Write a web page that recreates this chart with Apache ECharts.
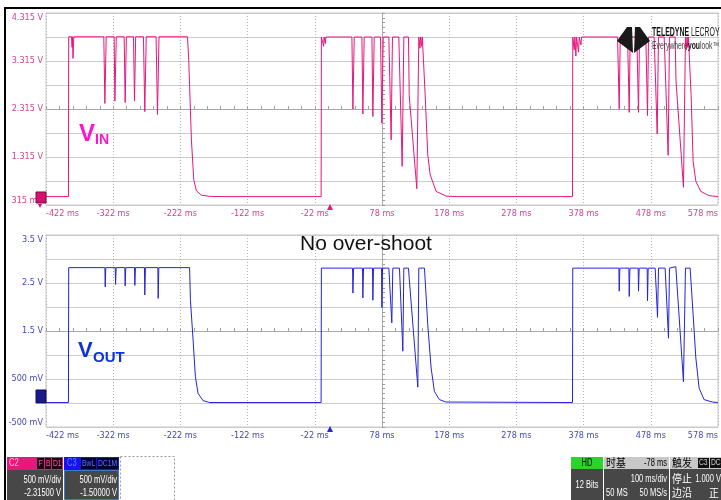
<!DOCTYPE html>
<html lang="en">
<head>
<meta charset="UTF-8">
<title>VIN / VOUT scope capture</title>
<style>
  html, body { margin: 0; padding: 0; background: #fff; }
  #scope { width: 721px; height: 500px; }
</style>
</head>
<body>
<div id="scope"></div>
<script src="https://cdn.jsdelivr.net/npm/echarts@6/dist/echarts.min.js"></script>
<script>
// tick labels as shown on the scope
var xTickLabels = ['-422 ms', '-322 ms', '-222 ms', '-122 ms', '-22 ms', '78 ms', '178 ms', '278 ms', '378 ms', '478 ms', '578 ms'];
var vinTickLabels = ['315 mV', '1.315 V', '2.315 V', '3.315 V', '4.315 V'];
var voutTickLabels = ['-500 mV', '500 mV', '1.5 V', '2.5 V', '3.5 V'];

// screen centre of each trace (78 ms, offset volts), 500 mV/div
var timeCenter = 78;
var vinCenter = 2.315;
var voutCenter = 1.5;
var voltsPerDiv = 0.5;

// [time ms, volts]
var vinPoints = [
  [-422, 0.49], [-388.6, 0.49], [-388.2, 3.82], [-384, 3.82], [-383.2, 3.6], [-382.6, 3.82], [-381.8, 3.37], [-380.6, 3.82],
  [-336, 3.82], [-334.4, 2.43], [-332.4, 3.82],
  [-320.6, 3.82], [-319.5, 2.48], [-317.4, 3.82],
  [-305.7, 3.82], [-304.2, 2.45], [-302.4, 3.82],
  [-291.8, 3.82], [-290.3, 2.48], [-288.6, 3.82],
  [-277, 3.82], [-275, 2.26], [-272.8, 3.82],
  [-258.2, 3.82], [-256.1, 2.2], [-253.8, 3.82],
  [-211.5, 3.82], [-209.6, 3.34], [-205.6, 1.67], [-202.1, 0.84], [-198.2, 0.61], [-190.7, 0.52], [-178.4, 0.495], [-160, 0.49],
  [-12.6, 0.49], [-12.2, 3.815], [-9.5, 3.815], [-8.8, 3.62], [-8.2, 3.815], [-6.4, 3.68], [-5.6, 3.815],
  [33.2, 3.815], [34.7, 2.315], [36.7, 3.815],
  [48.1, 3.815], [49.5, 2.21], [51.5, 3.815],
  [63, 3.815], [64.4, 2.16], [66.4, 3.815],
  [75.8, 3.815], [77.8, 2.02], [79.8, 3.815],
  [88.2, 3.815], [91.6, 1.675], [93.6, 3.815],
  [103, 3.815], [108, 1.12], [110.5, 3.815],
  [117.4, 3.815], [118.5, 2.6], [129.8, 0.655], [132.8, 3.815], [134.5, 3.58], [135.5, 3.815], [137, 3.62], [138, 3.815],
  [140.2, 3.815], [142.2, 2.61], [146.1, 1.36], [149.6, 0.95], [158.5, 0.6], [173.4, 0.5], [190, 0.49],
  [361.5, 0.49], [361.9, 3.815], [364, 3.55], [365, 3.815], [366.5, 3.42], [367.5, 3.815], [370.5, 3.5], [371.5, 3.815], [374, 3.65], [375, 3.815],
  [428.5, 3.815], [431, 2.315], [432.5, 3.815],
  [443.4, 3.815], [445.9, 2.245], [447.3, 3.815],
  [457.2, 3.815], [459.7, 2.245], [461.2, 3.815],
  [470.6, 3.815], [473.1, 2.18], [474.6, 3.815],
  [483, 3.815], [487.5, 1.795], [489.4, 3.815],
  [497.9, 3.815], [503.8, 1.35], [505.8, 3.815],
  [514.2, 3.815], [515.5, 2.9], [526.6, 0.685], [529.6, 3.815], [531, 3.55], [532, 3.815], [533, 3.6], [534, 3.815],
  [536, 3.815], [538, 2.6], [541, 1.225], [545, 0.81], [552.3, 0.6], [564.7, 0.51], [578, 0.49]
];

var voutPoints = [
  [-422, 0.01], [-388.6, 0.01], [-388.2, 2.82],
  [-334.4, 2.82], [-333.9, 2.42], [-333, 2.82],
  [-319, 2.82], [-318.5, 2.47], [-317.6, 2.82],
  [-304.7, 2.82], [-304.2, 2.44], [-303.3, 2.82],
  [-290.3, 2.82], [-289.8, 2.45], [-288.9, 2.82],
  [-275.5, 2.82], [-275, 2.25], [-274, 2.82],
  [-255.6, 2.82], [-255.1, 2.18], [-254.1, 2.82],
  [-208.3, 2.82], [-207.1, 2.15], [-203.1, 1.31], [-199.7, 0.55], [-195.7, 0.2], [-188.3, 0.05], [-178.4, 0.01],
  [-12.6, 0.01], [-12.2, 2.81],
  [34.2, 2.81], [34.7, 2.29], [35.7, 2.81],
  [49, 2.81], [49.5, 2.19], [50.5, 2.81],
  [63.9, 2.81], [64.4, 2.14], [65.4, 2.81],
  [77.3, 2.81], [77.8, 1.99], [78.8, 2.81],
  [88.2, 2.81], [92.6, 1.67], [94.1, 2.81],
  [104, 2.81], [109, 1.08], [110.5, 2.81],
  [117.4, 2.81], [118.5, 2.6], [131.3, 0.33], [132.8, 2.81],
  [141.2, 2.81], [146.1, 1.63], [151.1, 0.73], [156, 0.24], [163.5, 0.07], [173.4, 0.02],
  [361.5, 0.01], [361.9, 2.81],
  [430.5, 2.81], [431, 2.33], [432, 2.81],
  [445.4, 2.81], [445.9, 2.22], [446.9, 2.81],
  [459.2, 2.81], [459.7, 2.33], [460.7, 2.81],
  [472.6, 2.81], [473.1, 2.13], [474.1, 2.81],
  [484.5, 2.81], [488, 1.785], [489.5, 2.81],
  [499.3, 2.81], [504.3, 1.35], [505.8, 2.81],
  [515.2, 2.84], [526.6, 0.44], [529.6, 2.81],
  [536.5, 2.81], [541, 1.84], [545, 0.94], [549.9, 0.31], [557.3, 0.07], [569.7, 0.02], [578, 0.01]
];

var pink = '#e8157e';
var blue = '#2424d8';
var narrow = "'DejaVu Sans Condensed', 'Liberation Sans', sans-serif";
var arial = "'Liberation Sans', Arial, sans-serif";
var cjk = "'Noto Sans CJK SC', sans-serif";

function toScreen(points, center) {
  return points.map(function (p) {
    return [p[0] - timeCenter, (p[1] - center) / voltsPerDiv];
  });
}

function labelAxisX(g, color) {
  return {
    gridIndex: g, type: 'value', min: -500, max: 500, interval: 100, position: 'bottom',
    axisLine: { show: false, onZero: false }, axisTick: { show: false },
    splitLine: { show: true, lineStyle: { color: '#b4b4b4', type: [1, 2], width: 1 } },
    axisLabel: {
      color: color, fontFamily: narrow, fontSize: 9, margin: 4,
      showMinLabel: true, showMaxLabel: true, alignMinLabel: 'left', alignMaxLabel: 'right',
      formatter: function (v) { return xTickLabels[Math.round((v + 500) / 100)]; }
    }
  };
}

function centerAxisX(g) {
  return {
    gridIndex: g, type: 'value', min: -500, max: 500, interval: 20, position: 'bottom',
    axisLine: { show: true, onZero: true, lineStyle: { color: '#a8a8a8' } },
    axisTick: { show: true, inside: true, length: 3, lineStyle: { color: '#a0a0a0' } },
    axisLabel: { show: false }, splitLine: { show: false }
  };
}

function labelAxisY(g, color, labels) {
  return {
    gridIndex: g, type: 'value', min: -4, max: 4, interval: 1, position: 'left',
    axisLine: { show: false, onZero: false }, axisTick: { show: false },
    splitLine: { show: true, lineStyle: { color: '#cbcbcb', width: 1 } },
    axisLabel: {
      color: color, fontFamily: narrow, fontSize: 9, margin: 3,
      showMinLabel: true, showMaxLabel: true,
      verticalAlignMinLabel: 'bottom', verticalAlignMaxLabel: 'top',
      formatter: function (v) {
        var k = Math.round(v + 4);
        return k % 2 === 0 ? labels[k / 2] : '';
      }
    }
  };
}

function centerAxisY(g) {
  return {
    gridIndex: g, type: 'value', min: -4, max: 4, interval: 0.2, position: 'left',
    axisLine: { show: true, onZero: true, lineStyle: { color: '#a8a8a8' } },
    axisTick: { show: true, inside: true, length: 3, lineStyle: { color: '#a0a0a0' } },
    axisLabel: { show: false }, splitLine: { show: false }
  };
}

// squeezed text for the small status boxes
function boxText(x, y, text, opts, sx) {
  return {
    type: 'text', x: x, y: y, z: 20, scaleX: sx || 0.75,
    style: Object.assign({ text: text, fill: '#ffffff', font: '10px ' + arial, textVerticalAlign: 'middle' }, opts || {})
  };
}

function box(x, y, w, h, fill, stroke) {
  return {
    type: 'rect', z: 19, shape: { x: x, y: y, width: w, height: h },
    style: { fill: fill, stroke: stroke || null, lineWidth: stroke ? 1 : 0 }
  };
}

var chart = echarts.init(document.getElementById('scope'), null, { renderer: 'canvas' });

var option = {
  animation: false,
  backgroundColor: '#ffffff',
  grid: [
    { left: 46, top: 13, width: 673, height: 192, show: true, borderColor: '#c6c6c6', borderWidth: 1 },
    { left: 46, top: 235, width: 673, height: 192, show: true, borderColor: '#c6c6c6', borderWidth: 1 }
  ],
  xAxis: [labelAxisX(0, '#d6428e'), centerAxisX(0), labelAxisX(1, '#4048c0'), centerAxisX(1)],
  yAxis: [labelAxisY(0, '#d6428e', vinTickLabels), centerAxisY(0), labelAxisY(1, '#4048c0', voutTickLabels), centerAxisY(1)],
  series: [
    {
      name: 'VIN', type: 'line', xAxisIndex: 0, yAxisIndex: 0,
      data: toScreen(vinPoints, vinCenter), showSymbol: false, z: 5,
      lineStyle: { color: pink, width: 1 }
    },
    {
      name: 'VOUT', type: 'line', xAxisIndex: 2, yAxisIndex: 2,
      data: toScreen(voutPoints, voutCenter), showSymbol: false, z: 5,
      lineStyle: { color: blue, width: 1 }
    }
  ],
  graphic: [
    // outer black frame
    box(4, 7, 717, 2, '#000000'),
    box(4, 7, 2, 493, '#000000'),

    // trace names
    { type: 'text', x: 79, y: 122, z: 20, style: { text: 'V', fill: '#ff14cc', font: 'bold 24px ' + arial } },
    { type: 'text', x: 95, y: 133, z: 20, style: { text: 'IN', fill: '#ff14cc', font: 'bold 14px ' + arial } },
    { type: 'text', x: 78, y: 340, z: 20, style: { text: 'V', fill: '#0a32e0', font: 'bold 22px ' + arial } },
    { type: 'text', x: 93, y: 350, z: 20, style: { text: 'OUT', fill: '#0a32e0', font: 'bold 15px ' + arial } },
    { type: 'text', x: 300, y: 234, z: 20, style: { text: 'No over-shoot', fill: '#111111', font: '21px ' + arial } },

    // channel ground markers
    box(36, 192, 10, 11, '#d4126e', '#7a0a40'),
    { type: 'polygon', z: 20, shape: { points: [[38, 204], [42, 204], [40, 208]] }, style: { fill: '#d4126e' } },
    box(36, 390, 10, 13, '#1a1a90', '#0c0c50'),

    // trigger position markers
    { type: 'polygon', z: 20, shape: { points: [[327, 210], [333, 210], [330, 204]] }, style: { fill: '#e8157e' } },
    { type: 'polygon', z: 20, shape: { points: [[327, 432], [333, 432], [330, 426]] }, style: { fill: '#2424d8' } },

    // logo
    { type: 'polygon', z: 21, shape: { points: [[617, 41], [627, 27], [632, 27], [633, 53]] }, style: { fill: '#1a1a1a' } },
    { type: 'polygon', z: 21, shape: { points: [[650, 41], [640, 27], [635, 27], [634, 53]] }, style: { fill: '#1a1a1a' } },
    {
      type: 'text', x: 652, y: 27, z: 21, scaleX: 0.58,
      style: {
        text: '{b|TELEDYNE} {n|LECROY}',
        rich: {
          b: { font: 'bold 12px ' + arial, fill: '#111' },
          n: { font: '12px ' + arial, fill: '#222' }
        }
      }
    },
    {
      type: 'text', x: 652, y: 41, z: 21, scaleX: 0.68,
      style: {
        text: '{n|Everywhere}{b|you}{n|look™}',
        rich: {
          b: { font: 'bold 10px ' + arial, fill: '#111' },
          n: { font: '10px ' + arial, fill: '#444' }
        }
      }
    },

    // C2 descriptor
    box(7, 457, 56, 13, '#e8187a'),
    boxText(9, 463.5, 'C2', { fill: '#ffc0e0' }),
    box(37, 458, 7, 11, '#1a0010'),
    boxText(38.5, 463.5, 'F', { fill: '#ff5aa8', font: '9px ' + arial }),
    box(45, 458, 6, 11, '#1a0010'),
    boxText(46, 463.5, 'B', { fill: '#ff5aa8', font: '9px ' + arial }),
    box(52, 458, 10, 11, '#1a0010'),
    boxText(53, 463.5, 'D1', { fill: '#ff5aa8', font: '9px ' + arial }),
    box(7, 470, 56, 30, '#474747'),
    boxText(61, 480, '500 mV/div', { textAlign: 'right' }),
    boxText(61, 493, '-2.31500 V', { textAlign: 'right' }),

    // C3 descriptor
    box(64, 457, 55, 13, '#1414f0'),
    boxText(67, 463.5, 'C3', { fill: '#6080ff' }),
    box(81, 458, 15, 11, '#000030'),
    boxText(82, 463.5, 'BwL', { fill: '#5a70ff', font: '9px ' + arial }),
    box(97, 458, 21, 11, '#000030'),
    boxText(98, 463.5, 'DC1M', { fill: '#5a70ff', font: '9px ' + arial }),
    box(64.5, 470.5, 54, 29, '#474747', '#3f78c8'),
    boxText(117, 480, '500 mV/div', { textAlign: 'right' }),
    boxText(117, 493, '-1.50000 V', { textAlign: 'right' }),

    // empty descriptor slot
    {
      type: 'rect', z: 18, shape: { x: 120.5, y: 456.5, width: 54, height: 45 },
      style: { fill: null, stroke: '#9a9a9a', lineWidth: 1, lineDash: [2, 2] }
    },

    // acquisition status
    box(571, 457, 32, 12, '#2ed12e'),
    boxText(587, 463, 'HD', { fill: '#000', textAlign: 'center' }),
    box(571, 469, 32, 31, '#474747'),
    boxText(587, 485, '12 Bits', { textAlign: 'center' }),

    box(604, 457, 65, 12, '#c8c8c8'),
    boxText(606, 463, '时基', { fill: '#000', font: '11px ' + cjk }, 0.9),
    boxText(667, 463, '-78 ms', { fill: '#000', textAlign: 'right' }),
    box(604, 469, 65, 31, '#474747'),
    boxText(667, 479, '100 ms/div', { textAlign: 'right' }),
    boxText(606, 493, '50 MS'),
    boxText(667, 493, '50 MS/s', { textAlign: 'right' }),

    box(670, 457, 51, 12, '#c8c8c8'),
    boxText(672, 463, '触发', { fill: '#000', font: '11px ' + cjk }, 0.9),
    box(698, 458, 11, 10, '#111111'),
    boxText(699, 463, 'C3', { fill: '#cccccc', font: '9px ' + arial }),
    box(710, 458, 11, 10, '#111111'),
    boxText(711, 463, 'DC', { fill: '#cccccc', font: '9px ' + arial }),
    box(670, 469, 51, 31, '#474747'),
    boxText(672, 479, '停止', { font: '11px ' + cjk }, 0.9),
    boxText(721, 479, '1.000 V', { textAlign: 'right' }),
    boxText(672, 493, '边沿', { font: '11px ' + cjk }, 0.9),
    boxText(719, 493, '正', { textAlign: 'right', font: '11px ' + cjk }, 0.9)
  ]
};

chart.setOption(option);
</script>
</body>
</html>
